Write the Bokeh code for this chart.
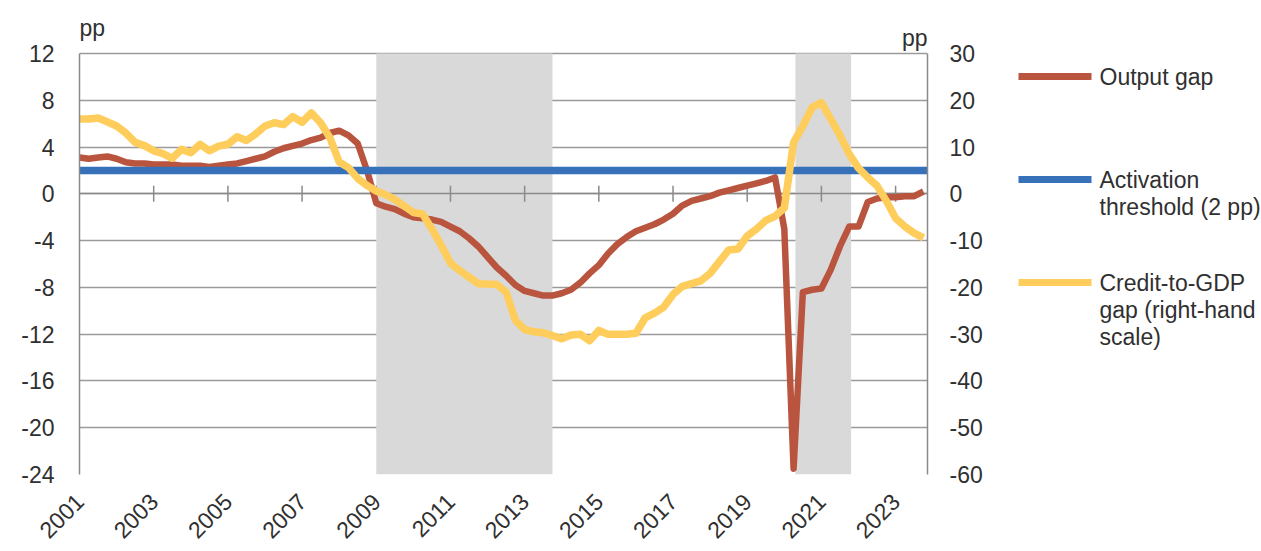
import numpy as np
from bokeh.plotting import figure
from bokeh.models import Range1d, LinearAxis, FixedTicker, PrintfTickFormatter
from bokeh.layouts import row
from bokeh.embed import file_html
from bokeh.resources import INLINE
from bokeh.core.properties import value

# ---------------- data ----------------
start_year = 2001  # 2001Q1, quarterly observations
output_gap = [3.1, 3.0, 3.1, 3.2, 3.0, 2.7, 2.6, 2.6, 2.5, 2.5, 2.5, 2.4,
              2.4, 2.4, 2.3, 2.4, 2.5, 2.6, 2.8, 3.0, 3.2, 3.6, 3.9, 4.1,
              4.3, 4.6, 4.8, 5.2, 5.4, 5.0, 4.3, 2.0, -0.8, -1.1, -1.3, -1.7,
              -2.0, -2.1, -2.2, -2.4, -2.8, -3.2, -3.8, -4.5, -5.4, -6.3, -7.0, -7.8,
              -8.3, -8.5, -8.7, -8.7, -8.5, -8.2, -7.6, -6.8, -6.1, -5.1, -4.3, -3.7,
              -3.2, -2.9, -2.6, -2.2, -1.7, -1.0, -0.6, -0.4, -0.2, 0.1, 0.3, 0.5,
              0.7, 0.9, 1.1, 1.4, -3.0, -23.5, -8.4, -8.2, -8.1, -6.5, -4.5, -2.8,
              -2.8, -0.7, -0.4, -0.3, -0.3, -0.2, -0.2, 0.2]
credit_gap = [16.0, 16.0, 16.2, 15.4, 14.5, 13.0, 11.0, 10.3, 9.2, 8.6, 7.6, 9.5,
              8.8, 10.6, 9.2, 10.2, 10.6, 12.2, 11.4, 12.8, 14.5, 15.2, 14.8, 16.5,
              15.3, 17.3, 15.2, 12.0, 6.8, 5.6, 3.3, 1.8, 0.6, -0.2, -1.2, -2.6,
              -4.0, -4.3, -7.5, -11.0, -14.8, -16.4, -17.8, -19.2, -19.3, -19.4, -21.0, -27.0,
              -29.0, -29.5, -29.7, -30.3, -31.0, -30.2, -30.0, -31.4, -29.2, -30.0, -30.0, -30.0,
              -29.8, -26.5, -25.5, -24.2, -21.5, -19.8, -19.2, -18.6, -17.0, -14.5, -12.0, -11.8,
              -9.0, -7.5, -5.7, -4.8, -3.0, 11.0, 14.5, 18.5, 19.5, 16.0, 12.5, 8.5,
              5.5, 3.5, 1.7, -1.5, -5.2, -7.0, -8.4, -9.4]
threshold = 2.0
shade_start = [2009.0, 2020.3]
shade_end = [2013.75, 2021.8]
left_ticks = [-24, -20, -16, -12, -8, -4, 0, 4, 8, 12]
right_ticks = [-60, -50, -40, -30, -20, -10, 0, 10, 20, 30]
year_ticks = list(range(2001, 2024, 2))
legend_labels = [["Output gap"],
                 ["Activation", "threshold (2 pp)"],
                 ["Credit-to-GDP", "gap (right-hand", "scale)"]]
unit_label = "pp"

x = [start_year + 0.25 * i for i in range(len(output_gap))]

# ---------------- style ----------------
RED = "#b9553f"
BLUE = "#3671b9"
YELLOW = "#fecd5c"
SHADE = "#d9d9d9"
GRID = "#9a9a9a"
AXC = "#8a8a8a"
TXT = "#303030"
FONT = "Liberation Sans"
FS = "23px"

H = 551
FRAME_TOP, FRAME_BOTTOM = 10, 474        # canvas pixels
L_MIN, L_MAX = left_ticks[0], left_ticks[-1]
R_MIN, R_MAX = right_ticks[0], right_ticks[-1]
ratio = (R_MAX - R_MIN) / (L_MAX - L_MIN)
PX_PER_UNIT = 421 / (L_MAX - L_MIN)      # vertical pixels per left-axis unit
TOP_PAD_PX = (FRAME_BOTTOM - FRAME_TOP) - 421
top_ext = L_MAX + TOP_PAD_PX / PX_PER_UNIT
X_END = 2023.86

p = figure(width=990, height=H,
           x_range=Range1d(start_year, X_END), y_range=Range1d(L_MIN, top_ext),
           output_backend="svg", toolbar_location=None,
           min_border_left=79, min_border_right=63,
           min_border_top=FRAME_TOP, min_border_bottom=H - FRAME_BOTTOM)
p.extra_y_ranges = {"right": Range1d(R_MIN, R_MIN + (top_ext - L_MIN) * ratio)}
p.outline_line_color = None
p.background_fill_color = "white"
p.border_fill_color = "white"

ax_r = LinearAxis(y_range_name="right", ticker=FixedTicker(ticks=right_ticks))
p.add_layout(ax_r, "right")

p.xaxis.ticker = FixedTicker(ticks=year_ticks)
p.yaxis[0].ticker = FixedTicker(ticks=left_ticks)
p.yaxis[0].bounds = (L_MIN, L_MAX)
ax_r.bounds = (R_MIN, R_MAX)
p.xgrid.visible = False
p.ygrid.grid_line_color = GRID
p.ygrid.grid_line_width = 1.3

for ax in p.xaxis + p.yaxis:
    ax.major_label_text_font = FONT
    ax.major_label_text_font_size = FS
    ax.major_label_text_color = TXT
    ax.major_tick_in = 0
    ax.major_tick_out = 0
    ax.minor_tick_line_color = None

p.xaxis.axis_line_color = None
p.xaxis.major_tick_line_color = None
p.xaxis.major_label_orientation = np.pi / 4
p.xaxis.major_label_standoff = 23

for ax in p.yaxis:
    ax.axis_line_color = AXC
    ax.axis_line_width = 1.5
    ax.major_tick_line_color = None
    ax.formatter = PrintfTickFormatter(format="%d")
p.yaxis[0].major_label_standoff = 25
ax_r.major_label_standoff = 22

# shaded periods
p.quad(left=shade_start, right=shade_end, bottom=L_MIN, top=L_MAX,
       fill_color=SHADE, line_color=None)
# zero line with year ticks
p.hspan(y=[0], line_color=AXC, line_width=1.5)
p.scatter(x=year_ticks[1:], y=[0] * len(year_ticks[1:]), marker="dash", size=16,
          angle=np.pi / 2, line_color=AXC, line_width=1.5)

# series
p.line(x, output_gap, line_color=RED, line_width=6.5, line_join="round")
p.hspan(y=[threshold], line_color=BLUE, line_width=7.5)
p.line(x, credit_gap, line_color=YELLOW, line_width=7.5, line_join="round",
       y_range_name="right")

# unit labels above each axis
p.text(x=[start_year], y=[L_MAX + 26 / PX_PER_UNIT], text=[unit_label],
       text_align="left", text_baseline="alphabetic", text_font=value(FONT),
       text_font_size=value(FS), text_color=TXT)
p.text(x=[X_END], y=[L_MAX + 16 / PX_PER_UNIT], text=[unit_label],
       text_align="right", text_baseline="alphabetic", text_font=value(FONT),
       text_font_size=value(FS), text_color=TXT)

# ---------------- legend panel (frame aligned with the main frame) ----------------
lg = figure(width=271, height=H, x_range=Range1d(990, 1261),
            y_range=Range1d(FRAME_BOTTOM, FRAME_TOP),
            output_backend="svg", toolbar_location=None, min_border=0,
            x_axis_location=None, y_axis_location=None)
lg.grid.visible = False
lg.outline_line_color = None
lg.background_fill_color = "white"
lg.border_fill_color = "white"

colors = [RED, BLUE, YELLOW]
entry_y = [76, 179, 282]
line_gap = 27
sw_x0, sw_x1, txt_x = 1018, 1091, 1099
lg.segment(x0=[sw_x0] * 3, x1=[sw_x1] * 3, y0=entry_y, y1=entry_y,
           line_color=colors, line_width=7)
tx, ty, tt = [], [], []
for lines, y0 in zip(legend_labels, entry_y):
    for k, t in enumerate(lines):
        tx.append(txt_x)
        ty.append(y0 + k * line_gap)
        tt.append(t)
lg.text(x=tx, y=ty, text=tt, text_baseline="middle", text_align="left",
        text_font=value(FONT), text_font_size=value(FS), text_color=TXT)

layout = row(p, lg)
open("out.html", "w").write(file_html(layout, INLINE))
